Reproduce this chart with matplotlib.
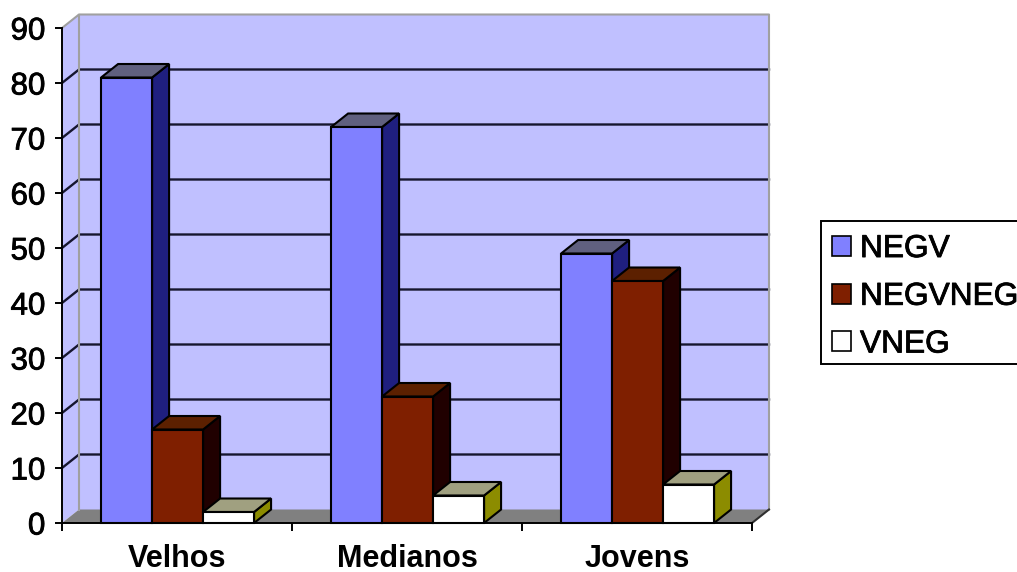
import matplotlib
matplotlib.use("Agg")
import matplotlib.pyplot as plt
import matplotlib.patheffects as pe
from matplotlib.patches import Patch, Polygon, Rectangle

categories = ["Velhos", "Medianos", "Jovens"]
series_names = ["NEGV", "NEGVNEG", "VNEG"]
negv = [81, 72, 49]
negvneg = [17, 23, 44]
vneg = [2, 5, 7]
y_ticks = [0, 10, 20, 30, 40, 50, 60, 70, 80, 90]

W, H = 1017, 572
fig = plt.figure(figsize=(W / 100, H / 100), dpi=100, facecolor="white")
plt.rcParams["font.family"] = ["Liberation Sans", "DejaVu Sans"]

# front plane of the fake 3d box, in pixels
left, right, top, bottom = 62, 752, 28, 523
ax = fig.add_axes([left / W, 1 - bottom / H, (right - left) / W, (bottom - top) / H])
ax.set_xlim(0, 3)
ax.set_ylim(0, 90)
ax.patch.set_visible(False)

# depth offset of the back wall, converted to data units
dx = 17 / ((right - left) / 3)
dy = 13.5 / ((bottom - top) / 90)

WALL = "#C0C0FF"
FLOOR = "#808080"
GRID = "#16162E"
EDGE = "#A0A0A0"

ax.add_patch(Polygon([(dx, dy), (3 + dx, dy), (3 + dx, 90 + dy), (dx, 90 + dy)],
                     fc=WALL, ec="none", clip_on=False, zorder=1))
ax.add_patch(Polygon([(0, 0), (dx, dy), (dx, 90 + dy), (0, 90)],
                     fc=WALL, ec="none", clip_on=False, zorder=1))
ax.add_patch(Polygon([(0, 0), (3, 0), (3 + dx, dy), (dx, dy)],
                     fc=FLOOR, ec="none", clip_on=False, zorder=1))

# gridlines run along the side wall then the back wall
for t in y_ticks[1:-1]:
    ax.plot([0, dx, 3 + dx], [t, t + dy, t + dy], color=GRID, lw=1.7,
            clip_on=False, zorder=1.5, solid_joinstyle="miter")
ax.plot([0, dx, 3 + dx, 3 + dx], [90, 90 + dy, 90 + dy, dy], color=EDGE, lw=1.5,
        clip_on=False, zorder=1.5)
ax.plot([dx, dx], [dy, 90 + dy], color=EDGE, lw=1.5, clip_on=False, zorder=1.5)
ax.plot([3 + dx, 3], [dy, 0], color="#303030", lw=1.5, clip_on=False, zorder=1.5)

gap = 0.17
bar_w = 0.2217
fronts = ["#8080FF", "#7F1F00", "#FFFFFF"]
sides = ["#1F1F7F", "#200000", "#8C8C00"]
tops = ["#60607F", "#5C2000", "#A0A080"]
all_series = [negv, negvneg, vneg]

z = 2
for c in range(len(categories)):
    for s, values in enumerate(all_series):
        x0 = c + gap + s * bar_w
        x1 = x0 + bar_w
        v = values[c]
        # side, then top, then front face
        ax.add_patch(Polygon([(x1, 0), (x1 + dx, dy), (x1 + dx, v + dy), (x1, v)],
                             fc=sides[s], ec="black", lw=1.5, clip_on=False, zorder=z,
                             joinstyle="miter"))
        ax.add_patch(Polygon([(x0, v), (x1, v), (x1 + dx, v + dy), (x0 + dx, v + dy)],
                             fc=tops[s], ec="black", lw=1.5, clip_on=False, zorder=z,
                             joinstyle="miter"))
        ax.add_patch(Polygon([(x0, 0), (x1, 0), (x1, v), (x0, v)],
                             fc=fronts[s], ec="black", lw=1.5, clip_on=False, zorder=z,
                             joinstyle="miter"))
        z += 0.01

for name in ["top", "right"]:
    ax.spines[name].set_visible(False)
for name in ["left", "bottom"]:
    ax.spines[name].set_linewidth(1.4)
    ax.spines[name].set_zorder(5)

heavy = [pe.withStroke(linewidth=0.6, foreground="black")]

ax.set_yticks(y_ticks)
ax.set_yticklabels([str(t) for t in y_ticks], fontsize=22.5, path_effects=heavy,
                   va="center_baseline")
ax.set_xticks([0, 1, 2, 3])
ax.set_xticklabels([])
ax.set_xticks([0.5, 1.5, 2.5], minor=True)
ax.set_xticklabels(categories, minor=True, fontsize=22, fontweight="bold")
ax.tick_params(axis="y", length=5, width=1.4, pad=7)
ax.tick_params(axis="x", which="major", length=6, width=1.4)
ax.tick_params(axis="x", which="minor", length=0, pad=15)

# legend box drawn by hand, behind the axes, so the entries can sit lower inside it
fig.add_artist(Rectangle((821 / W, 1 - 364 / H), 200 / W, 143 / H, transform=fig.transFigure,
                         fc="white", ec="black", lw=1.4, zorder=-1))
handles = [Patch(fc=f, ec="black", lw=1.2) for f in fronts]
leg = ax.legend(handles, series_names, loc="lower left",
                bbox_to_anchor=(822 / W, 1 - 369 / H), bbox_transform=fig.transFigure,
                fontsize=22.8, frameon=False,
                handlelength=0.6, handleheight=0.6, handletextpad=0.3, borderpad=0.3,
                borderaxespad=0, labelspacing=0.56)
for t in leg.get_texts():
    t.set_path_effects(heavy)

fig.savefig("out.png", dpi=100)
